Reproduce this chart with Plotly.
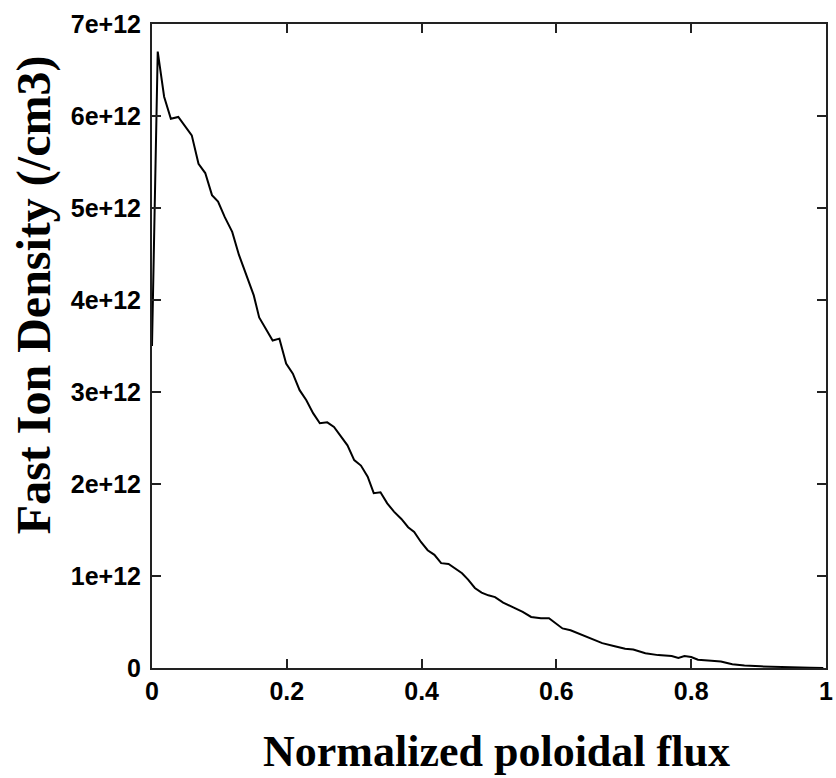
import plotly.graph_objects as go

flux = [0, 0.0085, 0.018, 0.028, 0.039, 0.048, 0.059, 0.069, 0.079, 0.089, 0.098, 0.108,
        0.119, 0.129, 0.141, 0.151, 0.159, 0.168, 0.179, 0.189, 0.199, 0.209, 0.219, 0.229,
        0.239, 0.249, 0.260, 0.270, 0.280, 0.290, 0.300, 0.310, 0.320, 0.329, 0.339, 0.349,
        0.359, 0.370, 0.380, 0.389, 0.399, 0.409, 0.419, 0.429, 0.440, 0.450, 0.460, 0.469,
        0.479, 0.489, 0.499, 0.509, 0.521, 0.536, 0.550, 0.5625, 0.577, 0.589, 0.599, 0.609,
        0.621, 0.634, 0.648, 0.668, 0.685, 0.702, 0.714, 0.732, 0.751, 0.771, 0.781, 0.790,
        0.800, 0.810, 0.830, 0.844, 0.861, 0.879, 0.903, 0.928, 0.952, 0.977, 0.996]

density_e12 = [3.5, 6.70, 6.21, 5.97, 5.99, 5.90, 5.79, 5.48, 5.38, 5.14, 5.07, 4.90,
               4.74, 4.49, 4.25, 4.05, 3.81, 3.69, 3.56, 3.58, 3.31, 3.20, 3.02, 2.91,
               2.77, 2.66, 2.67, 2.62, 2.52, 2.42, 2.26, 2.20, 2.08, 1.90, 1.91, 1.79,
               1.70, 1.62, 1.53, 1.48, 1.37, 1.28, 1.23, 1.14, 1.13, 1.08, 1.03, 0.96,
               0.87, 0.82, 0.79, 0.77, 0.71, 0.66, 0.61, 0.555, 0.54, 0.54, 0.48, 0.43,
               0.41, 0.37, 0.33, 0.27, 0.24, 0.21, 0.20, 0.16, 0.14, 0.13, 0.11, 0.13,
               0.12, 0.09, 0.08, 0.07, 0.04, 0.026, 0.018, 0.01, 0.004, 0.002, 0.0]

x_tickvals = [0, 0.2, 0.4, 0.6, 0.8, 1]
x_ticktext = ["0", "0.2", "0.4", "0.6", "0.8", "1"]
y_tickvals = [0, 1e12, 2e12, 3e12, 4e12, 5e12, 6e12, 7e12]
y_ticktext = ["0", "1e+12", "2e+12", "3e+12", "4e+12", "5e+12", "6e+12", "7e+12"]

x_title = "Normalized poloidal flux"
y_title = "Fast Ion Density (/cm3)"

density = [v * 1e12 for v in density_e12]

tick_font = dict(family="Liberation Sans, Arial, sans-serif",
                 size=25, color="black", weight="bold")
xtitle_font = dict(family="Liberation Serif, Times New Roman, serif", size=44,
                   color="black", weight="bold")
ytitle_font = dict(family="Liberation Serif, Times New Roman, serif", size=48,
                   color="black", weight="bold")

fig = go.Figure()
fig.add_trace(go.Scatter(x=flux, y=density, mode="lines",
                         line=dict(color="black", width=2), showlegend=False))

axis_common = dict(showgrid=False, zeroline=False, showline=True, linecolor="#222",
                   linewidth=2, mirror="ticks", ticks="inside", ticklen=9, tickwidth=2,
                   tickcolor="#222", tickfont=tick_font, ticklabeloverflow="allow")

fig.update_xaxes(range=[0, 1], tickvals=x_tickvals, ticktext=x_ticktext, **axis_common)
fig.update_yaxes(range=[0, 7e12], tickvals=y_tickvals, ticktext=y_ticktext,
                 ticklabelstandoff=4, **axis_common)

fig.add_annotation(text=x_title, xref="paper", yref="paper", x=0.511, y=-0.13,
                   xanchor="center", yanchor="middle", showarrow=False, font=xtitle_font)
fig.add_annotation(text=y_title, xref="paper", yref="paper", x=-0.175, y=0.579,
                   xanchor="center", yanchor="middle", textangle=-90, showarrow=False,
                   font=ytitle_font)

fig.update_layout(width=836, height=778, margin=dict(l=152, r=3, t=24, b=110),
                  plot_bgcolor="white", paper_bgcolor="white")

fig.write_html("out.html")
